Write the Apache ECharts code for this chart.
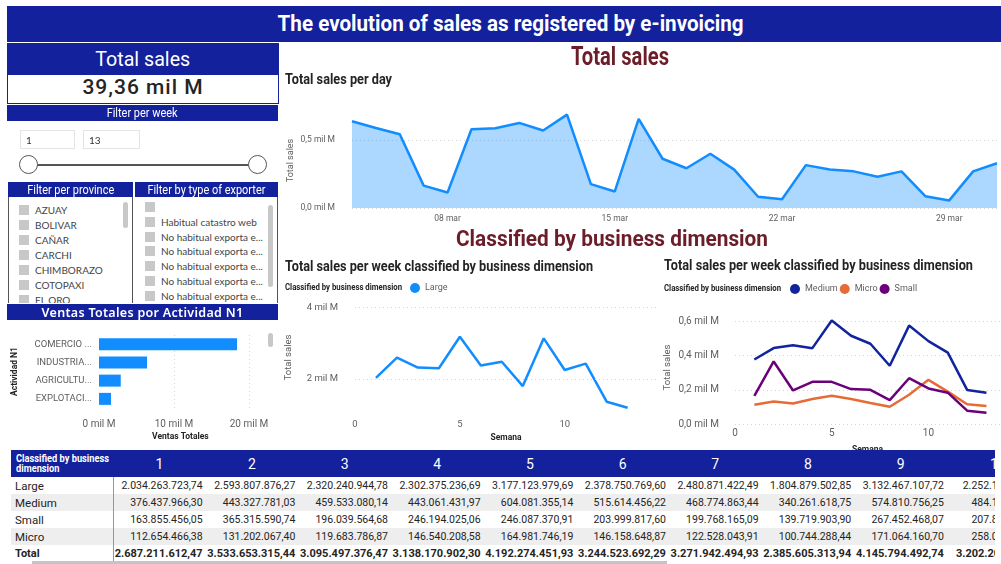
<!DOCTYPE html>
<html>
<head>
<meta charset="utf-8">
<title>The evolution of sales as registered by e-invoicing</title>
<script src="https://cdn.jsdelivr.net/npm/echarts@6.0.0/dist/echarts.min.js"></script>
<style>
  body { margin: 0; width: 1001px; height: 564px; overflow: hidden; background: #fff; position: relative; font-family: Roboto, sans-serif; }
  #chart { position: absolute; left: 0; top: 0; width: 1001px; height: 564px; }
  .box { position: absolute; z-index: 2; }
  .head { background: #13219c; color: #fff; text-align: center; font-family: Roboto, sans-serif; white-space: nowrap; overflow: hidden; }
  [data-fit] > span { display: inline-block; transform-origin: center; }
  .list { position: absolute; z-index: 2; font: 10px Lato, sans-serif; color: #444; overflow: hidden; background: #fff; }
  .item { position: absolute; white-space: nowrap; line-height: 12px; }
  .chk { display: inline-block; width: 10px; height: 10px; background: #c8c8c8; vertical-align: -1px; margin-right: 6px; }
  .scroll { position: absolute; background: #c8c8c8; border-radius: 3px; width: 5px; z-index: 3; }
  table { border-collapse: collapse; table-layout: fixed; width: 1036px; }
  th { background: #13219c; color: #fff; font-weight: normal; font-size: 14px; height: 27px; padding: 0; }
  td { height: 17px; padding: 0 3px 0 0; font-size: 10.5px; color: #252423; text-align: right; white-space: nowrap; overflow: hidden; }
  td.rh { text-align: left; padding-left: 4px; font-size: 11.5px; border-right: 1px solid #8595d2; }
  tr.band td { background: #eeeeee; }
  tr.total td { font-weight: bold; font-size: 11px; }
</style>
</head>
<body>
<div id="chart"></div>

<!-- cabecera -->
<div class="box head" data-fit="466" style="left:7px;top:6px;width:994px;height:36px;line-height:36px;font-size:22px;font-weight:bold;padding-left:14px;box-sizing:border-box"><span>The evolution of sales as registered by e-invoicing</span></div>

<!-- tarjeta total -->
<div class="box" style="left:7px;top:43px;width:270px;height:59px;border:1px solid #13219c;background:#fff">
  <div class="head" data-fit="95" style="height:31px;line-height:31px;font-size:21px"><span>Total sales</span></div>
  <div style="height:28px;line-height:28px;text-align:center;font:500 21px Roboto;letter-spacing:1px;color:#252423">39,36 mil M</div>
</div>

<!-- filtro semana -->
<div class="box head" data-fit="71" style="left:7px;top:105px;width:271px;height:16px;line-height:16px;font-size:13px"><span>Filter per week</span></div>
<div class="box" style="left:20px;top:130px;width:55px;height:19px;border:1px solid #e4e4e4;font:10px Lato;line-height:19px;padding-left:5px;box-sizing:border-box;color:#333">1</div>
<div class="box" style="left:83px;top:130px;width:57px;height:19px;border:1px solid #e4e4e4;font:10px Lato;line-height:19px;padding-left:5px;box-sizing:border-box;color:#333">13</div>
<div class="box" style="left:29px;top:164px;width:229px;height:2px;background:#555"></div>
<div class="box" style="left:19px;top:155px;width:17px;height:17px;border:1.5px solid #555;border-radius:50%;background:#fff"></div>
<div class="box" style="left:248px;top:155px;width:17px;height:17px;border:1.5px solid #555;border-radius:50%;background:#fff"></div>

<!-- filtros provincia / exportador -->
<div class="box head" data-fit="87" style="left:8px;top:182px;width:125px;height:15px;line-height:15px;font-size:12.5px"><span>Filter per province</span></div>
<div class="box head" data-fit="118" style="left:135px;top:182px;width:143px;height:15px;line-height:15px;font-size:12.5px"><span>Filter by type of exporter</span></div>
<div class="list" id="provList" style="left:8px;top:197px;width:125px;height:106px;border-right:1px solid #555;border-left:1px solid #555;box-sizing:border-box"></div>
<div class="list" id="expList" style="left:134px;top:197px;width:144px;height:106px;border-right:1px solid #555;box-sizing:border-box"></div>
<div class="scroll" style="left:123px;top:202px;height:26px"></div>
<div class="scroll" style="left:268px;top:205px;height:82px"></div>

<div class="box" style="left:7px;top:304px;width:271px;height:16px;line-height:16px;background:#13219c;color:#fff;text-align:center;font:600 12.5px 'Noto Sans';letter-spacing:0.3px">Ventas Totales por Actividad N1</div>
<div class="scroll" style="left:268px;top:333px;height:14px"></div>

<!-- tabla -->
<div class="box" id="tbl" style="left:11px;top:450px;width:984px;height:114px;overflow:hidden;background:#fff"></div>
<div class="box" style="left:32px;top:561px;width:635px;height:3px;background:#c4c4c4"></div>

<script>
// ventas diarias (mil M)
const days = ['04 mar', '05 mar', '06 mar', '07 mar', '08 mar', '09 mar', '10 mar', '11 mar', '12 mar', '13 mar',
  '14 mar', '15 mar', '16 mar', '17 mar', '18 mar', '19 mar', '20 mar', '21 mar', '22 mar', '23 mar',
  '24 mar', '25 mar', '26 mar', '27 mar', '28 mar', '29 mar', '30 mar', '31 mar'];
const dailySales = [0.639, 0.59, 0.543, 0.165, 0.114, 0.58, 0.588, 0.627, 0.571, 0.688,
  0.176, 0.122, 0.657, 0.363, 0.293, 0.40, 0.283, 0.083, 0.064, 0.316,
  0.283, 0.27, 0.23, 0.27, 0.087, 0.056, 0.27, 0.33];

// ventas semanales por dimension
const weeks = [1, 2, 3, 4, 5, 6, 7, 8, 9, 10, 11, 12, 13];
const salesLarge = [2034263723.74, 2593807876.27, 2320240944.78, 2302375236.69, 3177123979.69, 2378750769.60,
  2480871422.49, 1804879502.85, 3132467107.72, 2252150000.00, 2430000000, 1370000000, 1200000000];
const salesMedium = [376437966.30, 443327781.03, 459533080.14, 443061431.97, 604081355.14, 515614456.22,
  468774863.44, 340261618.75, 574810756.25, 484150000.00, 417000000, 199000000, 183000000];
const salesSmall = [163855456.05, 365315590.74, 196039564.68, 246194025.06, 246087370.91, 203999817.60,
  199768165.09, 139719903.90, 267452468.07, 207850000.00, 183000000, 78000000, 66000000];
const salesMicro = [112654466.38, 131202067.40, 119683786.87, 146540208.58, 164981746.19, 146158648.87,
  122528043.91, 100744288.44, 171064160.70, 258050000.00, 189000000, 115000000, 105000000];
const tableWeeks = 10; // columnas visibles en la tabla

// actividades
const activities = ['COMERCIO ...', 'INDUSTRIA...', 'AGRICULTU...', 'EXPLOTACI...'];
const activitySales = [18.4, 6.4, 2.9, 1.6];

// filtros
const provinces = ['AZUAY', 'BOLIVAR', 'CAÑAR', 'CARCHI', 'CHIMBORAZO', 'COTOPAXI', 'EL ORO'];
const exporterTypes = ['', 'Habitual catastro web', 'No habitual exporta e...', 'No habitual exporta e...',
  'No habitual exporta e...', 'No habitual exporta e...', 'No habitual exporta e...'];

// listas de filtros
provinces.forEach((p, i) => {
  const el = document.createElement('div');
  el.className = 'item';
  el.style.left = '10px';
  el.style.top = (7 + i * 15) + 'px';
  el.innerHTML = '<span class="chk"></span>' + p;
  document.getElementById('provList').appendChild(el);
});
exporterTypes.forEach((t, i) => {
  const el = document.createElement('div');
  el.className = 'item';
  el.style.left = '11px';
  el.style.top = (4 + i * 14.8) + 'px';
  el.innerHTML = '<span class="chk"></span>' + t;
  document.getElementById('expList').appendChild(el);
});

// tabla
const fmt = v => {
  const [i, d] = v.toFixed(2).split('.');
  return i.replace(/\B(?=(\d{3})+(?!\d))/g, '.') + ',' + d;
};
const rows = [['Large', salesLarge], ['Medium', salesMedium], ['Small', salesSmall], ['Micro', salesMicro]];
let html = '<table><colgroup><col style="width:102px">';
for (let w = 0; w < tableWeeks; w++) html += `<col style="width:${w === tableWeeks - 1 ? 100 : 92.67}px">`;
html += '<tr><th data-fit="93" style="text-align:left;padding-left:5px;font:bold 10px/10px Roboto;white-space:nowrap"><span style="transform-origin:left">Classified by business<br>dimension</span></th>';
for (let w = 0; w < tableWeeks; w++) {
  html += w === tableWeeks - 1 ? `<th style="text-align:left;padding-left:43px">${weeks[w]}</th>` : `<th>${weeks[w]}</th>`;
}
html += '</tr>';
rows.forEach(([name, vals], r) => {
  html += `<tr class="${r % 2 ? 'band' : ''}"><td class="rh">${name}</td>`;
  for (let w = 0; w < tableWeeks; w++) html += `<td>${fmt(vals[w])}</td>`;
  html += '</tr>';
});
html += '<tr class="total"><td class="rh" style="font-weight:bold">Total</td>';
for (let w = 0; w < tableWeeks; w++) {
  const tot = rows.reduce((s, [, vals]) => s + vals[w], 0);
  html += `<td>${fmt(tot)}</td>`;
}
html += '</tr></table>';
document.getElementById('tbl').innerHTML = html;

// textos condensados: escalar al ancho del original
document.querySelectorAll('[data-fit] > span').forEach(span => {
  const s = +span.parentNode.dataset.fit / span.getBoundingClientRect().width;
  span.style.transform = `scaleX(${s})`;
});

// graficos
const chart = echarts.init(document.getElementById('chart'));
const measureCtx = document.createElement('canvas').getContext('2d');
const axisText = { color: '#605e5c', fontSize: 9.5, fontFamily: 'Roboto' };
const dotted = { color: '#d4d4d4', type: [1, 3], width: 1 };
const nameStyle = { color: '#605e5c', fontSize: 9.5, fontFamily: 'Roboto' };
const boldName = { color: '#252423', fontSize: 8.5, fontWeight: 'bold', fontFamily: 'Roboto' };
const milM = d => v => v.toFixed(d).replace('.', ',') + ' mil M';
const toMil = arr => weeks.map((w, i) => [w, arr[i] / 1e9]);

// texto con ancho fijo (fuente condensada)
const text = (t, x, y, font, fill, width, align) => {
  measureCtx.font = font;
  return {
    type: 'text', x, y, silent: true, scaleX: width / measureCtx.measureText(t).width,
    style: { text: t, font, fill, textAlign: align || 'left', textVerticalAlign: 'middle' }
  };
};

const option = {
  animation: false,
  graphic: [
    text('Total sales', 620, 59, 'bold 25px Roboto', '#6b1d2a', 98, 'center'),
    text('Total sales per day', 285, 80, 'bold 14px Roboto', '#252423', 107),
    text('Classified by business dimension', 612, 240, 'bold 22px Roboto', '#6b1d2a', 312, 'center'),
    text('Total sales per week classified by business dimension', 285, 267, 'bold 14px Roboto', '#252423', 308),
    text('Total sales per week classified by business dimension', 664, 266, 'bold 14px Roboto', '#252423', 309),
    text('Classified by business dimension', 285, 288, 'bold 9px Roboto', '#252423', 117),
    text('Classified by business dimension', 664, 289, 'bold 9px Roboto', '#252423', 117)
  ],
  legend: [
    {
      data: ['Large'], left: 410, top: 283, padding: 0, icon: 'circle', itemWidth: 10, itemHeight: 10,
      textStyle: { fontSize: 9, color: '#605e5c', fontFamily: 'Roboto' }
    },
    {
      data: ['Medium', 'Micro', 'Small'], left: 790, top: 284, padding: 0, icon: 'circle',
      itemWidth: 10, itemHeight: 10, itemGap: 2,
      textStyle: { fontSize: 9, color: '#605e5c', fontFamily: 'Roboto', width: 35 }
    }
  ],
  grid: [
    { left: 352, top: 113, width: 645, height: 95 },
    { left: 355, top: 300, width: 302, height: 115 },
    { left: 735, top: 311, width: 265, height: 113 },
    { left: 99, top: 335, width: 162.75, height: 73 }
  ],
  xAxis: [
    {
      gridIndex: 0, type: 'category', data: days, boundaryGap: false,
      axisLine: { show: false }, axisTick: { show: false },
      axisLabel: { ...axisText, fontSize: 8.5, margin: 6, interval: i => i % 7 === 4 }
    },
    {
      gridIndex: 1, type: 'value', min: 0, max: 14.4, interval: 5,
      axisLine: { show: false }, axisTick: { show: false }, splitLine: { show: false },
      axisLabel: { ...axisText, margin: 5, showMaxLabel: false },
      name: 'Semana', nameLocation: 'middle', nameGap: 18, nameTextStyle: boldName
    },
    {
      gridIndex: 2, type: 'value', min: 0, max: 13.7, interval: 5,
      axisLine: { show: false }, axisTick: { show: false }, splitLine: { show: false },
      axisLabel: { ...axisText, fontSize: 10, margin: 4, showMaxLabel: false },
      name: 'Semana', nameLocation: 'middle', nameGap: 21, nameTextStyle: boldName
    },
    {
      gridIndex: 3, type: 'value', min: 0, max: 21.7, interval: 10,
      axisLine: { show: false }, axisTick: { show: false },
      splitLine: { lineStyle: dotted, showMinLine: false, showMaxLine: false },
      axisLabel: { ...axisText, fontSize: 10, margin: 11, showMaxLabel: false, formatter: v => v + ' mil M' },
      name: 'Ventas Totales', nameLocation: 'middle', nameGap: 24, nameTextStyle: boldName
    }
  ],
  yAxis: [
    {
      gridIndex: 0, type: 'value', min: 0, max: 0.7, interval: 0.5,
      axisLine: { show: false }, axisTick: { show: false },
      splitLine: { lineStyle: dotted, showMaxLine: false },
      axisLabel: { ...axisText, fontSize: 8.5, margin: 17, showMaxLabel: false, formatter: milM(1) },
      name: 'Total sales', nameLocation: 'middle', nameGap: 57, nameMoveOverlap: false,
      nameTextStyle: { ...nameStyle, fontSize: 9 }
    },
    {
      gridIndex: 1, type: 'value', min: 1, max: 4.2, interval: 1,
      axisLine: { show: false }, axisTick: { show: false }, splitLine: { show: false },
      axisLabel: { ...axisText, margin: 17, showMaxLabel: false, formatter: v => (v === 2 || v === 4) ? v + ' mil M' : '' },
      name: 'Total sales', nameLocation: 'middle', nameGap: 61, nameMoveOverlap: false, nameTextStyle: nameStyle
    },
    {
      gridIndex: 2, type: 'value', min: 0, max: 0.66, interval: 0.2,
      axisLine: { show: false }, axisTick: { show: false },
      splitLine: { lineStyle: dotted, showMaxLine: false },
      axisLabel: { ...axisText, fontSize: 10, margin: 16, showMaxLabel: false, formatter: milM(1) },
      name: 'Total sales', nameLocation: 'middle', nameGap: 62, nameMoveOverlap: false, nameTextStyle: nameStyle
    },
    {
      gridIndex: 3, type: 'category', data: activities, inverse: true,
      axisLine: { show: false }, axisTick: { show: false },
      axisLabel: { ...axisText, margin: 7 },
      name: 'Actividad N1', nameLocation: 'middle', nameGap: 80, nameMoveOverlap: false, nameTextStyle: boldName
    }
  ],
  series: [
    {
      name: 'Total sales', type: 'line', xAxisIndex: 0, yAxisIndex: 0, data: dailySales,
      showSymbol: false, lineStyle: { color: '#118DFF', width: 2.5 },
      itemStyle: { color: '#118DFF' }, areaStyle: { color: '#118DFF', opacity: 0.35 }
    },
    {
      name: 'Large', type: 'line', xAxisIndex: 1, yAxisIndex: 1, data: toMil(salesLarge),
      showSymbol: false, color: '#118DFF', lineStyle: { width: 2.5 },
      markLine: {
        silent: true, symbol: 'none', label: { show: false }, lineStyle: dotted,
        data: [{ yAxis: 2 }, { yAxis: 4 }]
      }
    },
    {
      name: 'Medium', type: 'line', xAxisIndex: 2, yAxisIndex: 2, data: toMil(salesMedium),
      showSymbol: false, color: '#12239E', lineStyle: { width: 2.5 }
    },
    {
      name: 'Micro', type: 'line', xAxisIndex: 2, yAxisIndex: 2, data: toMil(salesMicro),
      showSymbol: false, color: '#E66C37', lineStyle: { width: 2.5 }
    },
    {
      name: 'Small', type: 'line', xAxisIndex: 2, yAxisIndex: 2, data: toMil(salesSmall),
      showSymbol: false, color: '#6B007B', lineStyle: { width: 2.5 }
    },
    {
      name: 'Ventas Totales', type: 'bar', xAxisIndex: 3, yAxisIndex: 3, data: activitySales,
      barWidth: 12, itemStyle: { color: '#118DFF' }
    }
  ]
};
chart.setOption(option);
</script>
</body>
</html>
